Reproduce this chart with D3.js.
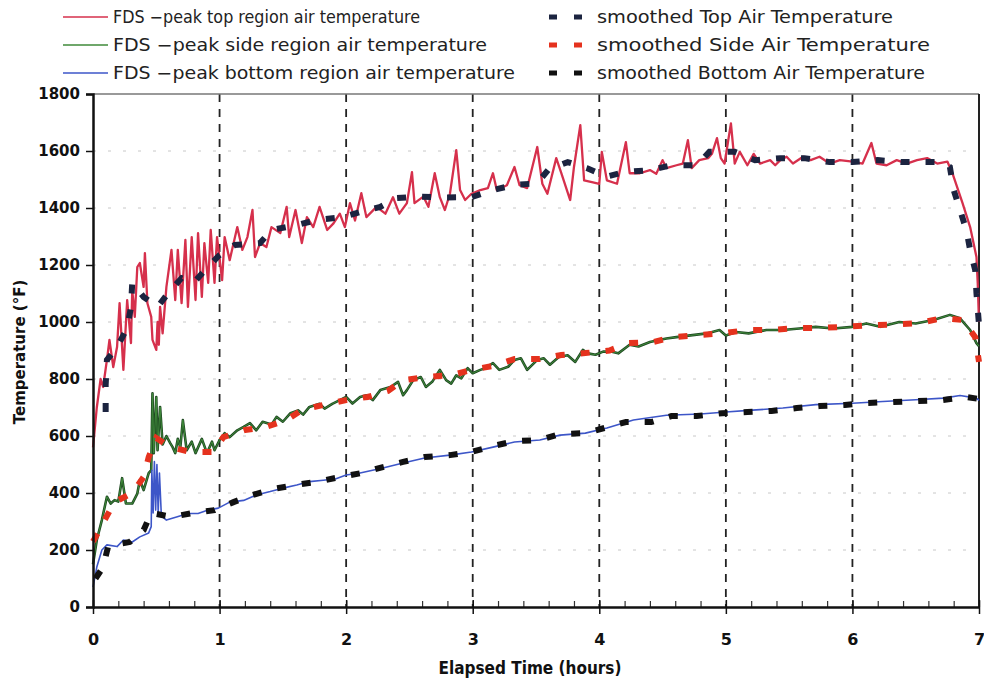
<!DOCTYPE html>
<html>
<head>
    <meta charset="UTF-8">
    <title>FDS peak air temperature</title>
    <script src="https://cdn.jsdelivr.net/npm/d3@7"></script>
    <style>
        body { margin: 0; background: #fff; }
        .tick text { font-family: "DejaVu Sans", Verdana, sans-serif; font-weight: bold; }
    </style>
</head>
<body>
<svg id="chart"></svg>
<script>
    // hours, deg F
    var topPeak = [[0,560],[0.03,700],[0.06,800],[0.08,772],[0.11,867],[0.13,937],[0.16,842],[0.19,912],[0.21,1066],[0.24,832],
        [0.27,1077],[0.30,926],[0.31,1112],[0.33,1018],[0.35,1193],[0.37,1207],[0.40,1123],[0.41,1242],[0.43,1066],[0.46,1018],
        [0.47,937],[0.50,902],[0.51,1000],[0.52,920],[0.53,1053],[0.55,960],[0.58,1123],[0.62,1253],[0.65,1077],[0.67,1253],
        [0.70,1066],[0.73,1288],[0.75,1053],[0.78,1298],[0.81,1077],[0.83,1312],[0.86,1088],[0.88,1277],[0.91,1137],[0.93,1323],
        [0.96,1137],[0.98,1298],[1.02,1147],[1.04,1298],[1.08,1217],[1.14,1333],[1.18,1253],[1.22,1298],[1.26,1393],[1.28,1228],
        [1.32,1277],[1.37,1263],[1.41,1333],[1.48,1312],[1.53,1404],[1.55,1298],[1.60,1393],[1.65,1277],[1.69,1368],[1.74,1333],
        [1.79,1404],[1.85,1323],[1.90,1346],[1.95,1380],[1.99,1333],[2.03,1417],[2.07,1356],[2.12,1452],[2.16,1368],[2.24,1404],
        [2.31,1380],[2.37,1438],[2.42,1380],[2.48,1417],[2.52,1526],[2.54,1417],[2.61,1440],[2.65,1404],[2.70,1522],[2.74,1438],
        [2.78,1393],[2.82,1450],[2.87,1603],[2.90,1463],[2.94,1428],[2.99,1450],[3.06,1463],[3.12,1470],[3.16,1522],[3.19,1463],
        [3.27,1480],[3.33,1544],[3.37,1480],[3.43,1470],[3.51,1614],[3.55,1485],[3.59,1450],[3.66,1575],[3.70,1522],[3.77,1428],
        [3.80,1544],[3.85,1691],[3.88,1497],[3.95,1490],[4.00,1485],[4.02,1597],[4.06,1497],[4.14,1485],[4.21,1631],[4.24,1522],
        [4.32,1522],[4.40,1533],[4.45,1520],[4.50,1568],[4.53,1540],[4.61,1550],[4.66,1556],[4.70,1638],[4.73,1540],[4.79,1568],
        [4.86,1575],[4.89,1590],[4.93,1645],[4.96,1575],[4.99,1556],[5.04,1697],[5.07,1556],[5.11,1597],[5.17,1550],[5.22,1590],
        [5.27,1556],[5.35,1568],[5.39,1550],[5.43,1568],[5.48,1580],[5.53,1556],[5.61,1580],[5.67,1568],[5.74,1580],[5.82,1556],
        [5.90,1568],[6.00,1563],[6.08,1556],[6.15,1628],[6.19,1556],[6.27,1550],[6.35,1568],[6.43,1556],[6.51,1568],[6.59,1575],
        [6.67,1556],[6.75,1563],[6.79,1522],[6.87,1417],[6.93,1333],[6.98,1228],[6.99,1137],[7.00,1000]];

    var sidePeak = [[0,150],[0.03,235],[0.07,305],[0.11,387],[0.14,363],[0.17,375],[0.20,370],[0.23,452],[0.26,363],[0.31,363],
        [0.35,398],[0.37,445],[0.40,410],[0.44,470],[0.46,480],[0.47,750],[0.48,540],[0.50,737],[0.51,550],[0.53,702],
        [0.55,570],[0.58,600],[0.61,575],[0.63,560],[0.65,540],[0.67,590],[0.69,560],[0.71,656],[0.74,550],[0.78,580],
        [0.81,540],[0.86,590],[0.90,540],[0.94,580],[0.96,550],[1.00,586],[1.04,610],[1.08,596],[1.14,620],[1.19,632],
        [1.24,645],[1.29,620],[1.34,650],[1.41,640],[1.45,667],[1.50,650],[1.56,680],[1.62,690],[1.66,675],[1.71,702],
        [1.79,713],[1.83,696],[1.89,713],[1.95,726],[2.00,737],[2.05,714],[2.11,737],[2.16,743],[2.21,726],[2.27,761],
        [2.35,772],[2.41,790],[2.45,743],[2.48,761],[2.53,796],[2.59,807],[2.63,772],[2.68,790],[2.74,832],[2.79,796],
        [2.83,784],[2.87,813],[2.91,802],[2.96,838],[3.00,820],[3.06,832],[3.10,838],[3.16,856],[3.21,832],[3.28,843],
        [3.33,867],[3.38,873],[3.43,832],[3.51,867],[3.56,873],[3.61,850],[3.68,877],[3.75,883],[3.81,860],[3.87,902],
        [3.91,890],[3.97,885],[4.03,896],[4.10,896],[4.15,890],[4.24,920],[4.31,914],[4.40,930],[4.53,942],[4.61,947],
        [4.72,953],[4.85,960],[4.95,972],[5.00,953],[5.08,965],[5.18,960],[5.32,972],[5.45,972],[5.58,977],[5.71,983],
        [5.85,977],[6.00,983],[6.11,995],[6.22,983],[6.37,1000],[6.50,995],[6.64,1007],[6.77,1025],[6.85,1013],[6.93,972],
        [6.98,926],[7.00,915]];

    var bottomPeak = [[0,70],[0.03,140],[0.07,200],[0.11,218],[0.19,212],[0.24,235],[0.31,228],[0.37,246],[0.44,260],[0.46,282],
        [0.465,480],[0.475,330],[0.485,510],[0.495,340],[0.505,500],[0.515,330],[0.525,470],[0.54,320],[0.58,305],[0.66,316],
        [0.75,328],[0.83,328],[0.91,340],[0.99,347],[1.08,368],[1.19,374],[1.29,393],[1.40,405],[1.50,417],[1.61,428],
        [1.71,440],[1.82,445],[1.92,450],[2.00,463],[2.11,470],[2.29,488],[2.45,505],[2.62,523],[2.82,533],[2.99,544],
        [3.16,561],[3.33,579],[3.53,586],[3.69,603],[3.89,610],[4.06,628],[4.27,656],[4.53,673],[4.80,677],[5.00,684],
        [5.18,690],[5.45,698],[5.71,710],[6.00,715],[6.24,721],[6.50,727],[6.72,733],[6.85,742],[6.98,733],[7.00,725]];

    var topSmooth = [[0.10,684],[0.10,779],[0.11,867],[0.19,912],[0.27,979],[0.30,1053],[0.31,1137],[0.40,1088],[0.51,1053],
        [0.60,1105],[0.70,1154],[0.80,1140],[0.90,1189],[1.00,1235],[1.12,1270],[1.32,1277],[1.41,1323],[1.61,1340],[1.77,1358],
        [1.97,1368],[2.11,1386],[2.27,1404],[2.40,1435],[2.58,1440],[2.79,1437],[2.99,1438],[3.16,1463],[3.32,1480],[3.51,1487],
        [3.60,1536],[3.75,1561],[3.90,1540],[4.06,1510],[4.20,1526],[4.40,1533],[4.57,1550],[4.77,1550],[4.87,1597],[5.07,1597],
        [5.23,1568],[5.43,1575],[5.62,1575],[5.82,1561],[6.00,1561],[6.20,1568],[6.40,1561],[6.61,1561],[6.71,1561],[6.77,1544],
        [6.80,1463],[6.90,1323],[6.93,1253],[6.97,1182],[6.98,1101],[7.00,990]];

    var sideSmooth = [[0,230],[0.03,253],[0.10,312],[0.17,368],[0.31,400],[0.40,456],[0.44,526],[0.50,593],[0.61,561],[0.77,544],
        [0.95,544],[1.03,596],[1.20,621],[1.37,632],[1.53,656],[1.65,691],[1.82,709],[2.00,726],[2.17,737],[2.33,758],
        [2.45,796],[2.64,807],[2.84,814],[2.99,832],[3.16,846],[3.33,870],[3.53,870],[3.70,884],[3.89,891],[4.08,900],
        [4.23,926],[4.43,930],[4.58,947],[4.78,954],[4.97,960],[5.17,972],[5.36,972],[5.56,979],[5.74,979],[5.94,983],
        [6.14,989],[6.33,991],[6.53,996],[6.71,1014],[6.87,1007],[6.97,947],[7.00,860]];

    var bottomSmooth = [[0.02,100],[0.08,140],[0.12,214],[0.29,228],[0.40,270],[0.46,330],[0.62,316],[0.79,330],[0.96,340],
        [1.11,368],[1.26,393],[1.42,414],[1.60,428],[1.78,440],[1.95,456],[2.12,470],[2.29,491],[2.45,509],[2.62,526],
        [2.82,533],[2.99,544],[3.16,565],[3.33,582],[3.53,586],[3.69,607],[3.89,610],[4.04,628],[4.21,649],[4.41,649],
        [4.57,670],[4.77,670],[4.97,680],[5.17,684],[5.36,688],[5.56,698],[5.74,705],[5.94,709],[6.12,716],[6.32,719],
        [6.52,723],[6.71,726],[6.90,737],[7.00,730]];

    var peakLabels = ["FDS \u2212peak top region air temperature",
        "FDS \u2212peak side region air temperature",
        "FDS \u2212peak bottom region air temperature"];
    var smoothLabels = ["smoothed Top Air Temperature",
        "smoothed Side Air Temperature",
        "smoothed Bottom Air Temperature"];
    var yTicks = [0, 200, 400, 600, 800, 1000, 1200, 1400, 1600, 1800];
    var xTicks = [0, 1, 2, 3, 4, 5, 6, 7];

    var w = 984, h = 682,
        m = {left: 93, right: 5, top: 94, bottom: 75};

    var svg = d3.select("#chart").attr("width", w).attr("height", h);

    var x = d3.scaleLinear().domain([0, 7]).range([m.left, w - m.right]);
    var y = d3.scaleLinear().domain([0, 1800]).range([h - m.bottom, m.top]);

    // faint horizontal grid
    svg.append("g").selectAll("line").data(yTicks.slice(1, -1)).enter().append("line")
        .attr("x1", x(0)).attr("x2", x(7))
        .attr("y1", function (d) { return y(d); }).attr("y2", function (d) { return y(d); })
        .attr("stroke", "#c8c8c8").attr("stroke-width", 1).attr("stroke-dasharray", "3,12");

    // dashed vertical grid
    svg.append("g").selectAll("line").data(xTicks.slice(1, -1)).enter().append("line")
        .attr("x1", function (d) { return x(d); }).attr("x2", function (d) { return x(d); })
        .attr("y1", y(1800)).attr("y2", y(0))
        .attr("stroke", "#222").attr("stroke-width", 1.8).attr("stroke-dasharray", "8,7");

    // frame
    svg.append("line").attr("x1", x(0)).attr("x2", x(7)).attr("y1", y(1800)).attr("y2", y(1800))
        .attr("stroke", "#777").attr("stroke-width", 1.5);
    svg.append("line").attr("x1", x(7)).attr("x2", x(7)).attr("y1", y(1800)).attr("y2", y(0))
        .attr("stroke", "#222").attr("stroke-width", 2);

    var line = d3.line().x(function (d) { return x(d[0]); }).y(function (d) { return y(d[1]); });

    function peak(data, color, width) {
        svg.append("path").datum(data).attr("d", line)
            .attr("fill", "none").attr("stroke", color).attr("stroke-width", width)
            .attr("stroke-linejoin", "round");
    }

    function smooth(data, color) {
        svg.append("path").datum(data).attr("d", line)
            .attr("fill", "none").attr("stroke", color).attr("stroke-width", 6)
            .attr("stroke-dasharray", "9,16");
    }

    peak(topPeak, "#d6304c", 2.3);
    peak(sidePeak, "#1f4a22", 2.6);
    peak(sidePeak, "#3f8a3a", 1);
    peak(bottomPeak, "#3d56c8", 1.6);
    smooth(topSmooth, "#1c2440");
    smooth(sideSmooth, "#e5321e");
    smooth(bottomSmooth, "#111");

    // axes
    var yAxis = d3.axisLeft(y).tickValues(yTicks).tickSize(7).tickPadding(6).tickFormat(d3.format("d"));
    svg.append("g").attr("transform", "translate(" + x(0) + ",0)").call(yAxis)
        .call(function (g) {
            g.select(".domain").attr("stroke", "#111").attr("stroke-width", 2.5);
            g.selectAll(".tick line").attr("stroke", "#111").attr("stroke-width", 1.5);
            g.selectAll(".tick text").attr("font-size", 15).attr("fill", "#111");
        });

    var xMinor = d3.axisBottom(x).ticks(35).tickSize(-6).tickFormat("");
    svg.append("g").attr("transform", "translate(0," + y(0) + ")").call(xMinor)
        .call(function (g) {
            g.select(".domain").remove();
            g.selectAll(".tick line").attr("stroke", "#333").attr("stroke-width", 1.2);
        });

    var xAxis = d3.axisBottom(x).tickValues(xTicks).tickFormat(d3.format("d"))
        .tickSizeInner(7).tickSizeOuter(0).tickPadding(20);
    svg.append("g").attr("transform", "translate(0," + y(0) + ")").call(xAxis)
        .call(function (g) {
            g.select(".domain").attr("stroke", "#111").attr("stroke-width", 2.5);
            g.selectAll(".tick line").attr("stroke", "#111").attr("stroke-width", 1.5).attr("y1", -7);
            g.selectAll(".tick text").attr("font-size", 16).attr("fill", "#111")
                .attr("font-family", "'DejaVu Sans Condensed', sans-serif");
        });

    // axis titles
    svg.append("text").attr("x", 530).attr("y", 674).attr("text-anchor", "middle")
        .attr("font-family", "'DejaVu Sans Condensed', sans-serif").attr("font-weight", "bold")
        .attr("font-size", 17).attr("fill", "#111").text("Elapsed Time (hours)");
    svg.append("text").attr("transform", "translate(25,352) rotate(-90)").attr("text-anchor", "middle")
        .attr("font-family", "'DejaVu Sans', sans-serif").attr("font-weight", "bold")
        .attr("font-size", 15).attr("fill", "#111").text("Temperature (\u00b0F)");

    // legend
    var legendFont = "'DejaVu Sans Condensed', sans-serif";
    var peakColors = ["#d6304c", "#3f8a3a", "#3d56c8"];
    var smoothColors = ["#1c2440", "#e5321e", "#111"];
    var peakWidths = [307, 374, 402];
    var smoothWidths = [296, 333, 328];
    var rowY = [17, 45, 73];

    var leg = svg.append("g");
    peakLabels.forEach(function (t, i) {
        leg.append("line").attr("x1", 63).attr("x2", 108).attr("y1", rowY[i]).attr("y2", rowY[i])
            .attr("stroke", peakColors[i]).attr("stroke-width", 1.5);
        leg.append("text").attr("x", 113).attr("y", rowY[i] + 6)
            .attr("font-family", legendFont).attr("font-size", 17).attr("fill", "#222")
            .attr("textLength", peakWidths[i]).attr("lengthAdjust", "spacingAndGlyphs").text(t);
    });
    smoothLabels.forEach(function (t, i) {
        leg.append("line").attr("x1", 549).attr("x2", 583).attr("y1", rowY[i]).attr("y2", rowY[i])
            .attr("stroke", smoothColors[i]).attr("stroke-width", 5).attr("stroke-dasharray", "8,17");
        leg.append("text").attr("x", 597).attr("y", rowY[i] + 6)
            .attr("font-family", legendFont).attr("font-size", 17).attr("fill", "#222")
            .attr("textLength", smoothWidths[i]).attr("lengthAdjust", "spacingAndGlyphs").text(t);
    });
</script>
</body>
</html>
